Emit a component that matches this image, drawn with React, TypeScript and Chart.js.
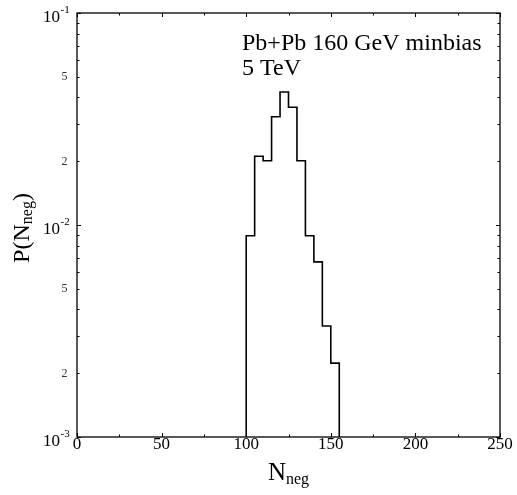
import React, { useEffect, useRef } from "react";
import { Chart, registerables } from "chart.js";

Chart.register(...registerables);

// Histogram of negative-hadron multiplicity (bin edges and probabilities)
const binEdges = [100, 105, 110, 115, 120, 125, 130, 135, 140, 145, 150, 155];
const probabilities = [0.0089, 0.0211, 0.0201, 0.0324, 0.0424, 0.0359, 0.0201, 0.0089, 0.0067, 0.00334, 0.00223];

const xMajorTicks = [0, 50, 100, 150, 200, 250];
const xMinorTicks = [25, 75, 125, 175, 225];
const yDecades = [0.001, 0.01, 0.1];
const yDecadeExponents = ["-3", "-2", "-1"];
const yMinorMultipliers = [2, 3, 4, 5, 6, 7, 8, 9];
const yLabelledMultipliers = [2, 5];

const annotationLines = ["Pb+Pb 160 GeV minbias", "5 TeV"];
const xTitle = ["N", "neg"];
const yTitle = ["P(N", "neg", ")"];

const SERIF = '"Liberation Serif", "Times New Roman", serif';

type Part = { text: string; font: string; dy: number };

function drawParts(ctx: CanvasRenderingContext2D, parts: Part[], cx: number, cy: number) {
  let total = 0;
  const widths = parts.map((p) => {
    ctx.font = p.font;
    const w = ctx.measureText(p.text).width;
    total += w;
    return w;
  });
  let x = cx - total / 2;
  parts.forEach((p, i) => {
    ctx.font = p.font;
    ctx.textAlign = "left";
    ctx.textBaseline = "alphabetic";
    ctx.fillText(p.text, x, cy + p.dy);
    x += widths[i];
  });
}

const framePlugin = {
  id: "frame",
  afterDraw(chart: any) {
    const { ctx, chartArea: a, scales } = chart;
    const xs = scales.x;
    const ys = scales.y;
    ctx.save();
    ctx.strokeStyle = "#000";
    ctx.fillStyle = "#000";
    ctx.lineWidth = 1.3;
    ctx.strokeRect(a.left, a.top, a.right - a.left, a.bottom - a.top);

    // x ticks (inward, mirrored)
    ctx.lineWidth = 1;
    const xTick = (v: number, len: number) => {
      const px = Math.round(xs.getPixelForValue(v)) + 0.5;
      ctx.beginPath();
      ctx.moveTo(px, a.bottom);
      ctx.lineTo(px, a.bottom - len);
      ctx.moveTo(px, a.top);
      ctx.lineTo(px, a.top + len);
      ctx.stroke();
    };
    xMajorTicks.forEach((v) => xTick(v, 4));
    xMinorTicks.forEach((v) => xTick(v, 2.5));

    const yTick = (v: number, len: number) => {
      const py = Math.round(ys.getPixelForValue(v)) + 0.5;
      ctx.beginPath();
      ctx.moveTo(a.left, py);
      ctx.lineTo(a.left + len, py);
      ctx.moveTo(a.right, py);
      ctx.lineTo(a.right - len, py);
      ctx.stroke();
    };
    yDecades.forEach((d, i) => {
      yTick(d, 4);
      if (i < yDecades.length - 1) {
        yMinorMultipliers.forEach((m) => yTick(d * m, 2.5));
      }
    });

    // x tick labels
    ctx.font = `17px ${SERIF}`;
    ctx.textAlign = "center";
    ctx.textBaseline = "alphabetic";
    xMajorTicks.forEach((v) => {
      ctx.fillText(String(v), xs.getPixelForValue(v), a.bottom + 12);
    });

    // y decade labels 10^n
    yDecades.forEach((d, i) => {
      const py = ys.getPixelForValue(d);
      const base = Math.max(py + 9, a.top + 7);
      ctx.font = `17px ${SERIF}`;
      ctx.textAlign = "right";
      ctx.fillText("10", a.left - 17, base);
      ctx.font = `11px ${SERIF}`;
      ctx.textAlign = "left";
      ctx.fillText(yDecadeExponents[i], a.left - 16.5, base - 9.5);
    });

    // y minor labels
    ctx.fillStyle = "#333";
    ctx.font = `12px ${SERIF}`;
    ctx.textAlign = "center";
    ctx.textBaseline = "middle";
    yDecades.slice(0, -1).forEach((d) => {
      yLabelledMultipliers.forEach((m) => {
        ctx.fillText(String(m), a.left - 12.5, ys.getPixelForValue(d * m) + 0.5);
      });
    });

    // annotation
    ctx.fillStyle = "#000";
    ctx.font = `24px ${SERIF}`;
    ctx.textAlign = "left";
    ctx.textBaseline = "alphabetic";
    annotationLines.forEach((t, i) => {
      ctx.fillText(t, 242, 50 + i * 25);
    });

    // x title
    const cx = (a.left + a.right) / 2;
    drawParts(
      ctx,
      [
        { text: xTitle[0], font: `25px ${SERIF}`, dy: 0 },
        { text: xTitle[1], font: `16px ${SERIF}`, dy: 4 },
      ],
      cx,
      480
    );

    // y title (rotated)
    ctx.save();
    ctx.translate(28.5, (a.top + a.bottom) / 2 + 3);
    ctx.rotate(-Math.PI / 2);
    drawParts(
      ctx,
      [
        { text: yTitle[0], font: `24px ${SERIF}`, dy: 0 },
        { text: yTitle[1], font: `16px ${SERIF}`, dy: 3 },
        { text: yTitle[2], font: `24px ${SERIF}`, dy: 0 },
      ],
      0,
      0
    );
    ctx.restore();

    ctx.restore();
  },
};

export default function App() {
  const ref = useRef<HTMLCanvasElement | null>(null);

  useEffect(() => {
    if (!ref.current) return;
    const yFloor = yDecades[0];
    const points: { x: number; y: number }[] = [{ x: binEdges[0], y: yFloor }];
    probabilities.forEach((p, i) => points.push({ x: binEdges[i], y: p }));
    points.push({ x: binEdges[binEdges.length - 1], y: yFloor });

    const chart = new Chart(ref.current, {
      type: "line",
      data: {
        datasets: [
          {
            data: points,
            stepped: true,
            borderColor: "#000",
            borderWidth: 1.6,
            pointRadius: 0,
            fill: false,
          },
        ],
      },
      options: {
        responsive: false,
        animation: false,
        devicePixelRatio: 1,
        layout: { padding: { left: 77, right: 17, top: 13, bottom: 58 } },
        plugins: { legend: { display: false }, tooltip: { enabled: false } },
        scales: {
          x: { type: "linear", min: 0, max: 250, display: false },
          y: { type: "logarithmic", min: yDecades[0], max: yDecades[yDecades.length - 1], display: false },
        },
      },
      plugins: [framePlugin],
    } as any);
    return () => chart.destroy();
  }, []);

  return (
    <div style={{ position: "absolute", left: 0, top: 0, width: 517, height: 495, background: "#fff" }}>
      <canvas ref={ref} width={517} height={495} />
    </div>
  );
}
